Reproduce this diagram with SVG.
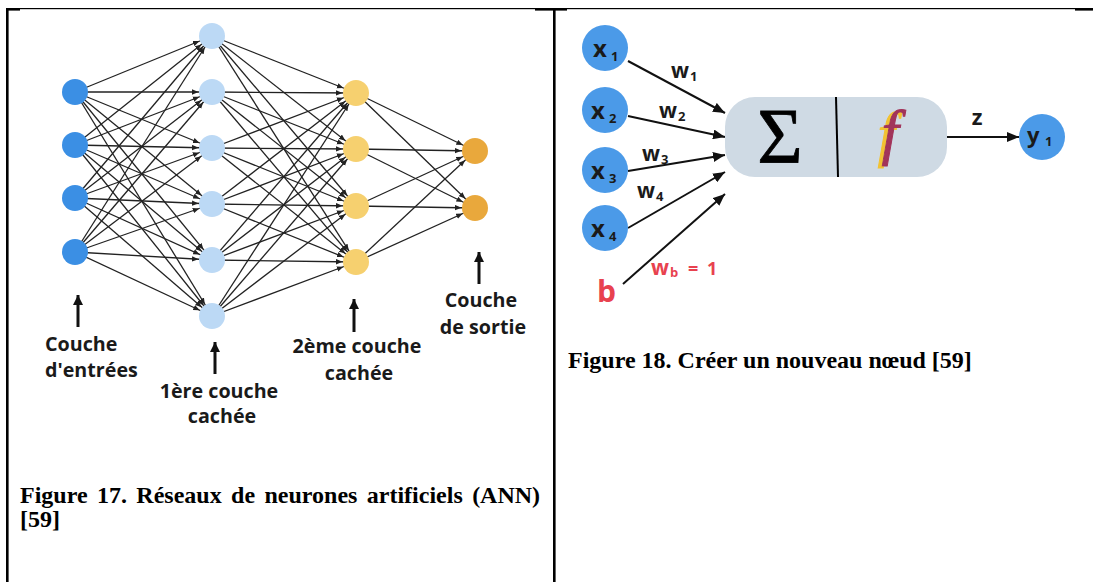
<svg xmlns="http://www.w3.org/2000/svg" width="1093" height="582" viewBox="0 0 1093 582">
<defs>
<style>
.e{stroke:#222;stroke-width:1.3;marker-end:url(#a)}
.lbl{font-family:"Open Sans",sans-serif;font-weight:700;font-size:19.7px;fill:#1a1a1a}
.up{stroke:#111;stroke-width:3;marker-end:url(#u)}
.arr{stroke:#111;stroke-width:2;marker-end:url(#b)}
.xt{font-family:"Open Sans",sans-serif;font-weight:700;fill:#1a1a1a}
.red{fill:#e8424f}
.cap{font-family:"Liberation Serif","Times New Roman",serif;font-weight:700;font-size:24px;fill:#000}
.in{fill:#3b8fe4}.h1{fill:#bcd9f5}.h2{fill:#f6d06f}.out{fill:#e9a83c}.xn{fill:#4b9ae8}
</style>
<marker id="a" viewBox="0 0 20 6" refX="20" refY="3" markerWidth="20" markerHeight="6" markerUnits="userSpaceOnUse" orient="auto"><path d="M0 0.3L6.5 3L0 5.7Z" fill="#222"/></marker>
<marker id="u" viewBox="0 0 10 10" refX="10" refY="5" markerWidth="10" markerHeight="10" markerUnits="userSpaceOnUse" orient="auto"><path d="M0 0L10 5L0 10Z" fill="#111"/></marker>
<marker id="b" viewBox="0 0 12 10" refX="12" refY="5" markerWidth="12" markerHeight="10" markerUnits="userSpaceOnUse" orient="auto"><path d="M0 0L12 5L0 10Z" fill="#111"/></marker>
<filter id="sh" x="-30%" y="-30%" width="160%" height="160%">
<feFlood flood-color="#f2c230" result="c"/>
<feComposite in="c" in2="SourceAlpha" operator="in" result="s"/>
<feOffset in="s" dx="-4" dy="2" result="so"/>
<feMerge><feMergeNode in="so"/><feMergeNode in="SourceGraphic"/></feMerge>
</filter>
</defs>
<rect width="1093" height="582" fill="#fff"/>
<g id="table">
<rect x="7" y="8" width="1086" height="1.2" fill="#000"/>
<rect x="7" y="8" width="13" height="2.6" fill="#000"/>
<rect x="535" y="8" width="32" height="2.6" fill="#000"/>
<rect x="1075" y="8" width="18" height="2.6" fill="#000"/>
<rect x="6" y="8" width="2.6" height="574" fill="#000"/>
<rect x="553" y="8" width="2.6" height="574" fill="#000"/>
</g>
<g id="connectors">
<line class="e" x1="75" y1="92" x2="212" y2="36"/><line class="e" x1="75" y1="92" x2="212" y2="92"/><line class="e" x1="75" y1="92" x2="212" y2="148"/><line class="e" x1="75" y1="92" x2="212" y2="204"/><line class="e" x1="75" y1="92" x2="212" y2="260"/><line class="e" x1="75" y1="92" x2="212" y2="316"/>
<line class="e" x1="75" y1="145" x2="212" y2="36"/><line class="e" x1="75" y1="145" x2="212" y2="92"/><line class="e" x1="75" y1="145" x2="212" y2="148"/><line class="e" x1="75" y1="145" x2="212" y2="204"/><line class="e" x1="75" y1="145" x2="212" y2="260"/><line class="e" x1="75" y1="145" x2="212" y2="316"/>
<line class="e" x1="75" y1="198" x2="212" y2="36"/><line class="e" x1="75" y1="198" x2="212" y2="92"/><line class="e" x1="75" y1="198" x2="212" y2="148"/><line class="e" x1="75" y1="198" x2="212" y2="204"/><line class="e" x1="75" y1="198" x2="212" y2="260"/><line class="e" x1="75" y1="198" x2="212" y2="316"/>
<line class="e" x1="75" y1="252" x2="212" y2="36"/><line class="e" x1="75" y1="252" x2="212" y2="92"/><line class="e" x1="75" y1="252" x2="212" y2="148"/><line class="e" x1="75" y1="252" x2="212" y2="204"/><line class="e" x1="75" y1="252" x2="212" y2="260"/><line class="e" x1="75" y1="252" x2="212" y2="316"/>
<line class="e" x1="212" y1="36" x2="356" y2="93"/><line class="e" x1="212" y1="36" x2="356" y2="149"/><line class="e" x1="212" y1="36" x2="356" y2="206"/><line class="e" x1="212" y1="36" x2="356" y2="262"/>
<line class="e" x1="212" y1="92" x2="356" y2="93"/><line class="e" x1="212" y1="92" x2="356" y2="149"/><line class="e" x1="212" y1="92" x2="356" y2="206"/><line class="e" x1="212" y1="92" x2="356" y2="262"/>
<line class="e" x1="212" y1="148" x2="356" y2="93"/><line class="e" x1="212" y1="148" x2="356" y2="149"/><line class="e" x1="212" y1="148" x2="356" y2="206"/><line class="e" x1="212" y1="148" x2="356" y2="262"/>
<line class="e" x1="212" y1="204" x2="356" y2="93"/><line class="e" x1="212" y1="204" x2="356" y2="149"/><line class="e" x1="212" y1="204" x2="356" y2="206"/><line class="e" x1="212" y1="204" x2="356" y2="262"/>
<line class="e" x1="212" y1="260" x2="356" y2="93"/><line class="e" x1="212" y1="260" x2="356" y2="149"/><line class="e" x1="212" y1="260" x2="356" y2="206"/><line class="e" x1="212" y1="260" x2="356" y2="262"/>
<line class="e" x1="212" y1="316" x2="356" y2="93"/><line class="e" x1="212" y1="316" x2="356" y2="149"/><line class="e" x1="212" y1="316" x2="356" y2="206"/><line class="e" x1="212" y1="316" x2="356" y2="262"/>
<line class="e" x1="356" y1="93" x2="475" y2="151"/><line class="e" x1="356" y1="93" x2="475" y2="208"/>
<line class="e" x1="356" y1="149" x2="475" y2="151"/><line class="e" x1="356" y1="149" x2="475" y2="208"/>
<line class="e" x1="356" y1="206" x2="475" y2="151"/><line class="e" x1="356" y1="206" x2="475" y2="208"/>
<line class="e" x1="356" y1="262" x2="475" y2="151"/><line class="e" x1="356" y1="262" x2="475" y2="208"/>
<line class="up" x1="78" y1="327" x2="78" y2="295"/>
<line class="up" x1="215" y1="374" x2="215" y2="342"/>
<line class="up" x1="354" y1="332" x2="354" y2="299"/>
<line class="up" x1="479" y1="284" x2="479" y2="252"/>
<line class="arr" x1="628" y1="61" x2="725" y2="113"/>
<line class="arr" x1="628" y1="116" x2="725" y2="137"/>
<line class="arr" x1="628" y1="171" x2="725" y2="155"/>
<line class="arr" x1="628" y1="228" x2="725" y2="172"/>
<line class="arr" x1="623" y1="284" x2="725" y2="194"/>
<line class="arr" x1="947" y1="137" x2="1019" y2="137"/>
</g>
<g id="input-layer">
<circle class="in" cx="75" cy="92" r="13"/><circle class="in" cx="75" cy="145" r="13"/><circle class="in" cx="75" cy="198" r="13"/><circle class="in" cx="75" cy="252" r="13"/>
</g>
<g id="hidden-layer-1">
<circle class="h1" cx="212" cy="36" r="13"/><circle class="h1" cx="212" cy="92" r="13"/><circle class="h1" cx="212" cy="148" r="13"/><circle class="h1" cx="212" cy="204" r="13"/><circle class="h1" cx="212" cy="260" r="13"/><circle class="h1" cx="212" cy="316" r="13"/>
</g>
<g id="hidden-layer-2">
<circle class="h2" cx="356" cy="93" r="13"/><circle class="h2" cx="356" cy="149" r="13"/><circle class="h2" cx="356" cy="206" r="13"/><circle class="h2" cx="356" cy="262" r="13"/>
</g>
<g id="output-layer">
<circle class="out" cx="475" cy="151" r="13"/><circle class="out" cx="475" cy="208" r="13"/>
</g>
<g id="labels-left">
<text class="lbl" x="45" y="351">Couche</text>
<text class="lbl" x="45" y="377">d'entrées</text>
<text class="lbl" x="219" y="398" text-anchor="middle">1ère couche</text>
<text class="lbl" x="222" y="423" text-anchor="middle">cachée</text>
<text class="lbl" x="357" y="353" text-anchor="middle">2ème couche</text>
<text class="lbl" x="359" y="380" text-anchor="middle">cachée</text>
<text class="lbl" x="481" y="307" text-anchor="middle">Couche</text>
<text class="lbl" x="483" y="334" text-anchor="middle">de sortie</text>
</g>
<g id="caption-17">
<text class="cap" x="20" y="503" word-spacing="3.4">Figure 17. Réseaux de neurones artificiels (ANN)</text>
<text class="cap" x="20" y="527">[59]</text>
</g>
<g id="node-x1"><circle class="xn" cx="605" cy="48" r="23"/><text class="xt" x="593" y="57" font-size="24">x</text><text class="xt" x="611" y="61" font-size="13">1</text></g>
<g id="node-x2"><circle class="xn" cx="605" cy="110" r="23"/><text class="xt" x="591" y="119" font-size="24">x</text><text class="xt" x="609" y="123" font-size="13">2</text></g>
<g id="node-x3"><circle class="xn" cx="605" cy="170" r="23"/><text class="xt" x="591" y="179" font-size="24">x</text><text class="xt" x="609" y="183" font-size="13">3</text></g>
<g id="node-x4"><circle class="xn" cx="605" cy="228" r="23"/><text class="xt" x="591" y="237" font-size="24">x</text><text class="xt" x="609" y="241" font-size="13">4</text></g>
<g id="node-b"><text class="xt red" x="597" y="302" font-size="30">b</text></g>
<g id="weights">
<text class="xt" x="671" y="78" font-size="21">w</text><text class="xt" x="690" y="81" font-size="13">1</text>
<text class="xt" x="659" y="118" font-size="21">w</text><text class="xt" x="678" y="121" font-size="13">2</text>
<text class="xt" x="642" y="161" font-size="21">w</text><text class="xt" x="661" y="164" font-size="13">3</text>
<text class="xt" x="637" y="198" font-size="21">w</text><text class="xt" x="656" y="201" font-size="13">4</text>
<text class="xt red" x="651" y="275" font-size="21">w</text><text class="xt red" x="670" y="277" font-size="13">b</text><text class="xt red" x="688" y="275" font-size="18">=</text><text class="xt red" x="707" y="275" font-size="18">1</text>
</g>
<g id="neuron">
<rect x="725" y="97" width="222" height="80" rx="30" fill="#cfdae4"/>
<line x1="836" y1="97" x2="838" y2="177" stroke="#000" stroke-width="2"/>
<text x="780" y="162" font-family="Liberation Serif,serif" font-size="78" text-anchor="middle" fill="#000" stroke="#000" stroke-width="0.8">Σ</text>
<text x="890" y="153" font-family="Liberation Serif,serif" font-style="italic" font-size="62" text-anchor="middle" fill="#a2345a" stroke="#a2345a" stroke-width="1" filter="url(#sh)">f</text>
</g>
<g id="label-z"><text class="xt" x="977" y="125" font-size="22" text-anchor="middle">z</text></g>
<g id="node-y1"><circle class="xn" cx="1042" cy="137" r="23"/><text class="xt" x="1027" y="143" font-size="22">y</text><text class="xt" x="1045" y="146" font-size="13">1</text></g>
<g id="caption-18">
<text class="cap" x="568" y="368">Figure 18. Créer un nouveau nœud [59]</text>
</g>
</svg>
